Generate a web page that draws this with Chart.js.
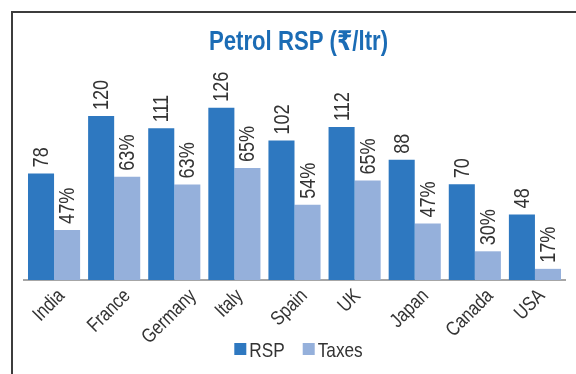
<!DOCTYPE html>
<html>
<head>
<meta charset="utf-8">
<script src="https://cdn.jsdelivr.net/npm/chart.js@4.4.1/dist/chart.umd.min.js"></script>
<style>
  html, body { margin: 0; padding: 0; background: #fff; }
  #wrap { position: relative; width: 576px; height: 374px; overflow: hidden; }
  #frame { position: absolute; left: 11px; top: 11px; right: -4px; bottom: -4px;
           border-top: 2px solid #3c3c3c; border-left: 2px solid #3c3c3c; }
  canvas { position: absolute; left: 0; top: 0; }
</style>
</head>
<body>
<div id="wrap">
  <div id="frame"></div>
  <canvas id="c" width="576" height="374"></canvas>
</div>
<script>
// Retail selling price of petrol and the tax share in it, by country
const countries = ['India', 'France', 'Germany', 'Italy', 'Spain', 'UK', 'Japan', 'Canada', 'USA'];
const rspValues = [78, 120, 111, 126, 102, 112, 88, 70, 48];      // ₹ per litre
const taxSharePct = [47, 63, 63, 65, 54, 65, 47, 30, 17];          // % of RSP
const taxValues = rspValues.map((v, i) => v * taxSharePct[i] / 100);
const seriesNames = ['RSP', 'Taxes'];
const chartTitle = 'Petrol RSP (₹/ltr)';

const BASE_FONT = "'Liberation Sans', Arial, 'DejaVu Sans', sans-serif";
const NARROW_K = 0.82;            // horizontal squeeze for a condensed look
const RSP_COLOR = '#2e78c0';
const TAX_COLOR = '#95b0db';
const TEXT_COLOR = '#333333';

// condensed text: regular face squeezed along the writing direction
function narrowWidth(ctx, text, size, bold) {
  ctx.save();
  ctx.font = (bold ? 'bold ' : '') + size + 'px ' + BASE_FONT;
  const w = ctx.measureText(text).width * NARROW_K;
  ctx.restore();
  return w;
}
function narrowText(ctx, text, x, y, o) {
  ctx.save();
  ctx.translate(x, y);
  if (o.angle) ctx.rotate(o.angle);
  ctx.scale(NARROW_K, 1);
  ctx.font = (o.bold ? 'bold ' : '') + o.size + 'px ' + BASE_FONT;
  ctx.fillStyle = o.color || TEXT_COLOR;
  ctx.textAlign = o.align || 'left';
  ctx.textBaseline = o.baseline || 'alphabetic';
  ctx.fillText(text, 0, 0);
  ctx.restore();
}

// value labels written vertically above each bar
const barValueLabels = {
  id: 'barValueLabels',
  afterDatasetsDraw(chart) {
    const ctx = chart.ctx;
    chart.data.datasets.forEach((ds, di) => {
      const meta = chart.getDatasetMeta(di);
      meta.data.forEach((bar, i) => {
        const text = di === 0 ? String(rspValues[i]) : taxSharePct[i] + '%';
        narrowText(ctx, text, bar.x + 1, bar.y - 6,
          { size: 22, angle: -Math.PI / 2, align: 'left', baseline: 'middle' });
      });
    });
  }
};

// slanted country names under the axis
const categoryLabels = {
  id: 'categoryLabels',
  afterDraw(chart) {
    const ctx = chart.ctx;
    const xs = chart.scales.x;
    const size = 20, h = 14;
    const c = Math.SQRT1_2;
    chart.data.labels.forEach((lab, i) => {
      const px = xs.getPixelForTick(i);
      const L = narrowWidth(ctx, lab, size, false);
      const boxH = (L + h) * c;
      const cx = px - 5;
      const cy = xs.top + 8 + boxH / 2;
      narrowText(ctx, lab, cx, cy,
        { size, angle: -Math.PI / 4, align: 'center', baseline: 'middle' });
    });
  }
};

// heading and the legend row at the bottom
const headingAndLegend = {
  id: 'headingAndLegend',
  afterDraw(chart) {
    const ctx = chart.ctx;
    const midX = (chart.chartArea.left + chart.chartArea.right) / 2 + 4;
    narrowText(ctx, chartTitle, midX, 50,
      { size: 27, bold: true, color: '#1b6cb5', align: 'center' });

    const size = 21, box = 12, gap = 3, spacing = 18;
    const items = chart.data.datasets.map(ds => ({
      label: ds.label, color: ds.backgroundColor,
      w: box + gap + narrowWidth(ctx, ds.label, size, false)
    }));
    const total = items.reduce((s, it) => s + it.w, 0) + spacing * (items.length - 1);
    let x = midX - total / 2;
    items.forEach(it => {
      ctx.fillStyle = it.color;
      ctx.fillRect(x, 343, box, box);
      narrowText(ctx, it.label, x + box + gap, 357, { size });
      x += it.w + spacing;
    });
  }
};

new Chart(document.getElementById('c'), {
  type: 'bar',
  data: {
    labels: countries,
    datasets: [
      { label: seriesNames[0], data: rspValues, backgroundColor: RSP_COLOR },
      { label: seriesNames[1], data: taxValues, backgroundColor: TAX_COLOR }
    ]
  },
  options: {
    responsive: false,
    animation: false,
    devicePixelRatio: 1,
    categoryPercentage: 0.867,
    barPercentage: 1.0,
    layout: { padding: { left: 24, right: 11, top: 75, bottom: 0 } },
    plugins: {
      legend: { display: false },
      title: { display: false },
      tooltip: { enabled: false }
    },
    scales: {
      x: {
        grid: { display: false },
        border: { display: true, color: '#a6a6a6', width: 2 },
        ticks: { display: false },
        afterFit(scale) { scale.height = 94; }
      },
      y: { display: false, min: 0, max: 150 }
    }
  },
  plugins: [barValueLabels, categoryLabels, headingAndLegend]
});
</script>
</body>
</html>
